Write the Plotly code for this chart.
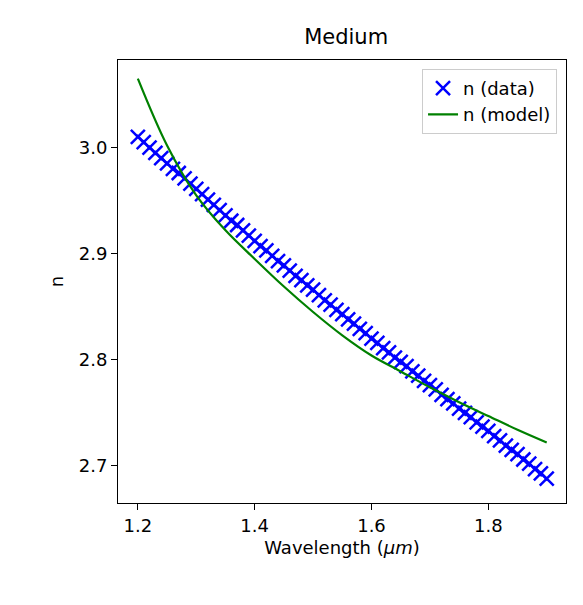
import plotly.graph_objects as go

wl_data = [1.20,1.21,1.22,1.23,1.24,1.25,1.26,1.27,1.28,1.29,1.30,1.31,1.32,1.33,1.34,1.35,1.36,1.37,1.38,1.39,
           1.40,1.41,1.42,1.43,1.44,1.45,1.46,1.47,1.48,1.49,1.50,1.51,1.52,1.53,1.54,1.55,1.56,1.57,1.58,1.59,
           1.60,1.61,1.62,1.63,1.64,1.65,1.66,1.67,1.68,1.69,1.70,1.71,1.72,1.73,1.74,1.75,1.76,1.77,1.78,1.79,
           1.80,1.81,1.82,1.83,1.84,1.85,1.86,1.87,1.88,1.89,1.90]
n_data = [3.010,3.005,3.000,2.995,2.990,2.985,2.980,2.976,2.971,2.966,2.961,2.956,2.951,2.946,2.941,2.936,2.931,2.927,2.922,2.917,
          2.912,2.907,2.903,2.898,2.893,2.889,2.884,2.879,2.875,2.870,2.866,2.861,2.856,2.852,2.847,2.843,2.838,2.834,2.829,2.825,
          2.820,2.816,2.811,2.807,2.802,2.798,2.794,2.789,2.785,2.780,2.776,2.772,2.767,2.763,2.759,2.754,2.750,2.746,2.741,2.737,
          2.733,2.728,2.724,2.719,2.715,2.711,2.706,2.702,2.697,2.693,2.688]
wl_model = [1.20,1.25,1.30,1.35,1.40,1.45,1.50,1.55,1.60,1.65,1.70,1.75,1.80,1.85,1.90]
n_model = [3.065,3.002,2.955,2.922,2.895,2.869,2.845,2.823,2.804,2.789,2.774,2.760,2.747,2.734,2.722]

fig = go.Figure()
fig.add_trace(go.Scatter(x=wl_data, y=n_data, mode="markers", name="n (data)",
    marker=dict(symbol="x-thin-open", size=14, color="blue", line=dict(width=2.5, color="blue"))))
fig.add_trace(go.Scatter(x=wl_model, y=n_model, mode="lines", name="n (model)",
    line=dict(color="green", width=2.2, shape="spline")))

ax = dict(showgrid=False, zeroline=False, showline=True, linecolor="black", mirror=True,
          ticks="outside", ticklen=6, tickcolor="black", tickfont=dict(size=18, color="black"))
fig.update_layout(
    width=583, height=605, plot_bgcolor="white", paper_bgcolor="white",
    margin=dict(l=110, r=25, t=52, b=110),
    font=dict(family="DejaVu Sans", color="black"),
    title=dict(text="Medium", x=0.58, xanchor="center", y=0.953, yanchor="middle", font=dict(size=21)),
    xaxis=dict(range=[1.166, 1.933], tickvals=[1.2,1.4,1.6,1.8], ticktext=["1.2","1.4","1.6","1.8"],
               title=dict(text="Wavelength (<i>μm</i>)", font=dict(size=18), standoff=6), **ax),
    yaxis=dict(range=[2.665, 3.0825], tickvals=[2.7,2.8,2.9,3.0], ticktext=["2.7","2.8","2.9","3.0"],
               title=dict(text="n", font=dict(size=18), standoff=10), **ax),
    legend=dict(x=0.98, y=0.98, xanchor="right", yanchor="top", bordercolor="#cccccc", borderwidth=1,
                bgcolor="rgba(255,255,255,0.8)", font=dict(size=18)),
)
fig.write_html("out.html")
